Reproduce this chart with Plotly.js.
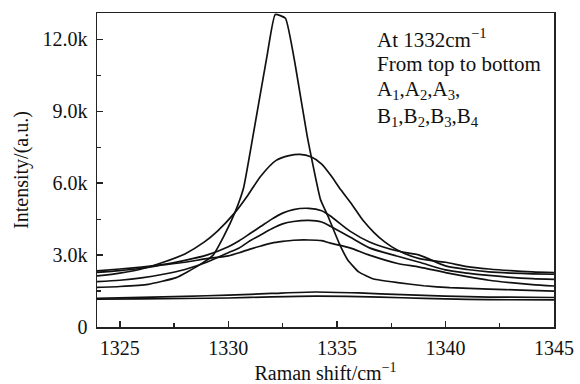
<!DOCTYPE html>
<html>
<head>
<meta charset="utf-8">
<script src="https://cdn.plot.ly/plotly-3.0.1.min.js"></script>
<style>html,body{margin:0;padding:0;background:#fff;}#chart{width:580px;height:384px;}</style>
</head>
<body>
<div id="chart"></div>
<script>
// Raman shift (cm^-1) and intensity (thousands, a.u.) per sample
const xA1 = [1323.95, 1325, 1326.3, 1327.6, 1328.6, 1329.3, 1329.8, 1330.3, 1330.7, 1331.16, 1331.78, 1332.16, 1332.63, 1333.09, 1333.63, 1334.24, 1334.6, 1335.1, 1335.5, 1336, 1336.7, 1337.8, 1339, 1340.2, 1342, 1343.5, 1345];
const yA1 = [1.65, 1.69, 1.78, 2.06, 2.55, 3.0, 3.8, 4.77, 5.8, 8.1, 11.3, 13.04, 12.88, 10.89, 7.97, 5.33, 4.6, 3.5, 2.8, 2.3, 2.0, 1.85, 1.72, 1.64, 1.58, 1.54, 1.5];

const xA2 = [1323.95, 1325, 1326, 1327, 1328, 1328.9, 1329.5, 1330.3, 1330.9, 1331.5, 1332.2, 1332.8, 1333.3, 1333.8, 1334.3, 1334.7, 1335.2, 1335.7, 1336.2, 1336.7, 1337.2, 1337.8, 1338.8, 1340, 1341, 1342, 1343, 1344, 1345];
const yA2 = [2.13, 2.25, 2.42, 2.7, 3.05, 3.55, 4.0, 4.77, 5.5, 6.3, 6.95, 7.15, 7.2, 7.1, 6.8, 6.35, 5.7, 5.1, 4.45, 3.95, 3.55, 3.2, 2.85, 2.7, 2.52, 2.42, 2.35, 2.3, 2.27];

const xB = [1323.95, 1325, 1326, 1327, 1328, 1329, 1330, 1330.5, 1331, 1331.5, 1332, 1332.5, 1333, 1333.7, 1334.3, 1334.7, 1335.6, 1336.5, 1337.8, 1338.8, 1340, 1341, 1342, 1343, 1344, 1345];
const yA3 = [2.28, 2.35, 2.45, 2.6, 2.78, 3.0, 3.35, 3.6, 3.9, 4.2, 4.5, 4.75, 4.9, 4.95, 4.85, 4.63, 4.0, 3.55, 3.17, 3.0, 2.55, 2.4, 2.3, 2.25, 2.22, 2.2];
const yB1 = [1.89, 1.95, 2.05, 2.2, 2.4, 2.7, 3.1, 3.3, 3.6, 3.85, 4.1, 4.3, 4.4, 4.45, 4.38, 4.2, 3.75, 3.3, 2.95, 2.7, 2.38, 2.25, 2.15, 2.07, 2.02, 1.99];
const yB2 = [2.34, 2.42, 2.5, 2.6, 2.7, 2.85, 2.97, 3.1, 3.25, 3.38, 3.5, 3.57, 3.62, 3.63, 3.6, 3.5, 3.3, 3.0, 2.65, 2.5, 2.27, 2.1, 1.95, 1.85, 1.77, 1.71];

const xLow = [1323.95, 1326, 1328, 1330, 1332, 1334, 1336, 1338, 1340, 1342, 1345];
const yB3 = [1.2, 1.24, 1.28, 1.33, 1.4, 1.46, 1.42, 1.35, 1.29, 1.25, 1.23];
const yB4 = [1.16, 1.17, 1.19, 1.21, 1.26, 1.29, 1.27, 1.22, 1.17, 1.14, 1.13];

const yTickVals = [0, 3, 6, 9, 12];
const yTickText = ["0", "3.0k", "6.0k", "9.0k", "12.0k"];
const xTickVals = [1325, 1330, 1335, 1340, 1345];

const lineStyle = {color: '#111', width: 1.7};
function tr(x, y, name, smooth) {
  return {x: x, y: y, name: name, type: 'scatter', mode: 'lines',
          line: Object.assign({shape: 'spline', smoothing: smooth}, lineStyle), hoverinfo: 'skip'};
}
const data = [
  tr(xA1, yA1, 'A1', 0.4),
  tr(xA2, yA2, 'A2', 0.7),
  tr(xB, yA3, 'A3', 0.7),
  tr(xB, yB1, 'B1', 0.7),
  tr(xB, yB2, 'B2', 0.7),
  tr(xLow, yB3, 'B3', 0.7),
  tr(xLow, yB4, 'B4', 0.7)
];

const fam = '"Liberation Serif", "Times New Roman", serif';
const font = {family: fam, size: 20, color: '#111'};
const annFont = {family: fam, size: 21, color: '#111'};
const ann = (txt, py) => ({xref: 'paper', yref: 'paper', x: 0.608, y: py, xanchor: 'left', yanchor: 'middle',
  text: txt, showarrow: false, font: annFont});

const layout = {
  width: 580, height: 384,
  margin: {l: 97, r: 26, t: 13, b: 57},
  paper_bgcolor: '#fff', plot_bgcolor: '#fff',
  showlegend: false,
  font: font,
  xaxis: {
    range: [1323.95, 1345], tickmode: 'array', tickvals: xTickVals,
    ticks: 'inside', ticklen: 6, tickwidth: 1.5, tickcolor: '#222',
    minor: {tickmode: 'linear', tick0: 1325, dtick: 2.5, ticks: 'inside', ticklen: 4, tickwidth: 1.2, tickcolor: '#222', showgrid: false},
    showline: true, linecolor: '#222', linewidth: 1.5, mirror: true,
    showgrid: false, zeroline: false, ticklabelstandoff: 2,
    tickfont: font,
    title: {text: 'Raman shift/cm<sup>−1</sup>', font: font, standoff: 10}
  },
  yaxis: {
    range: [0, 13.1], tickmode: 'array', tickvals: yTickVals, ticktext: yTickText,
    ticks: 'inside', ticklen: 6, tickwidth: 1.5, tickcolor: '#222',
    minor: {tickmode: 'linear', tick0: 0, dtick: 1.5, ticks: 'inside', ticklen: 4, tickwidth: 1.2, tickcolor: '#222', showgrid: false},
    showline: true, linecolor: '#222', linewidth: 1.5, mirror: true,
    showgrid: false, zeroline: false, ticklabelstandoff: 4,
    tickfont: font,
    title: {text: 'Intensity/(a.u.)', font: font, standoff: 8}
  },
  annotations: [
    ann('At 1332cm<sup>−1</sup>', 0.92),
    ann('From top to bottom', 0.838),
    ann('A<sub>1</sub>,A<sub>2</sub>,A<sub>3</sub>,', 0.755),
    ann('B<sub>1</sub>,B<sub>2</sub>,B<sub>3</sub>,B<sub>4</sub>', 0.67)
  ]
};

Plotly.newPlot('chart', data, layout, {staticPlot: true, displayModeBar: false});
</script>
</body>
</html>
